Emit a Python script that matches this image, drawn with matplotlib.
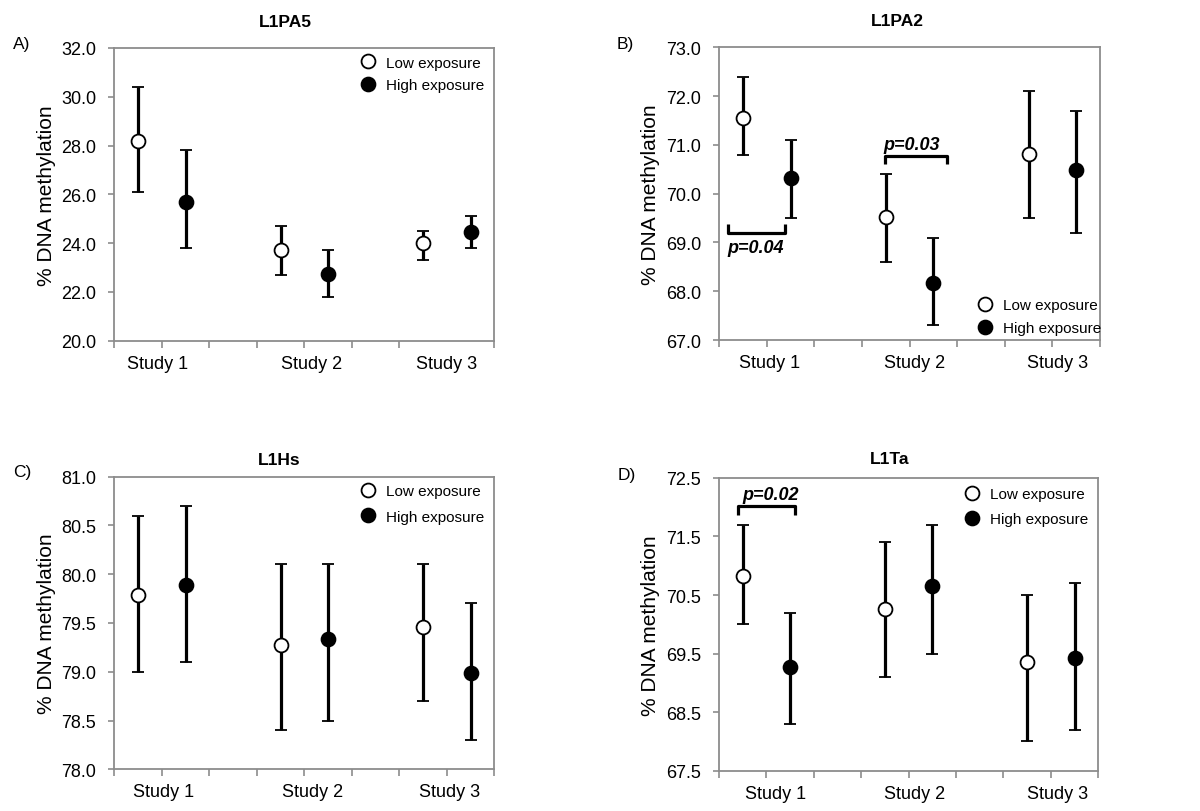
import numpy as np
import matplotlib
matplotlib.use('Agg')
import matplotlib.pyplot as plt
from matplotlib.lines import Line2D

plt.rcParams['font.family'] = ['Liberation Sans', 'DejaVu Sans']

studies = ['Study 1', 'Study 2', 'Study 3']
groups = ['Low exposure', 'High exposure']

# mean, upper bound, lower bound of each group, per panel
l1pa5_low = [28.2, 23.7, 24.0]
l1pa5_low_hi = [30.4, 24.7, 24.5]
l1pa5_low_lo = [26.1, 22.7, 23.3]
l1pa5_high = [25.7, 22.75, 24.45]
l1pa5_high_hi = [27.8, 23.7, 25.1]
l1pa5_high_lo = [23.8, 21.8, 23.8]

l1pa2_low = [71.55, 69.52, 70.82]
l1pa2_low_hi = [72.4, 70.4, 72.1]
l1pa2_low_lo = [70.8, 68.6, 69.5]
l1pa2_high = [70.32, 68.16, 70.48]
l1pa2_high_hi = [71.1, 69.1, 71.7]
l1pa2_high_lo = [69.5, 67.3, 69.2]

l1hs_low = [79.79, 79.27, 79.46]
l1hs_low_hi = [80.6, 80.1, 80.1]
l1hs_low_lo = [79.0, 78.4, 78.7]
l1hs_high = [79.89, 79.34, 78.99]
l1hs_high_hi = [80.7, 80.1, 79.7]
l1hs_high_lo = [79.1, 78.5, 78.3]

l1ta_low = [70.82, 70.26, 69.35]
l1ta_low_hi = [71.7, 71.4, 70.5]
l1ta_low_lo = [70.0, 69.1, 68.0]
l1ta_high = [69.27, 70.65, 69.42]
l1ta_high_hi = [70.2, 71.7, 70.7]
l1ta_high_lo = [68.3, 69.5, 68.2]

# significance brackets: (x start, x end, y, tip direction, label, label x, label y)
l1pa2_brackets = [(0.18, 1.39, 69.19, 1, 'p=0.04', 0.18, 68.9),
                  (3.48, 4.79, 70.78, -1, 'p=0.03', 3.45, 71.0)]
l1ta_brackets = [(0.39, 1.6, 72.02, -1, 'p=0.02', 0.5, 72.22)]

panels = [
    dict(title='L1PA5', tag='A)', ylim=(20, 32), step=2.0,
         low=(l1pa5_low, l1pa5_low_lo, l1pa5_low_hi),
         high=(l1pa5_high, l1pa5_high_lo, l1pa5_high_hi),
         brackets=[], rect=[0.0953, 0.5792, 0.3167, 0.3605],
         title_xy=(0.449, 1.09), tag_px=(22, 44),
         leg=('upper right', (0.99, 0.995), 0.55),
         label_x=[0.9, 4.15, 7.0]),
    dict(title='L1PA2', tag='B)', ylim=(67, 73), step=1.0,
         low=(l1pa2_low, l1pa2_low_lo, l1pa2_low_hi),
         high=(l1pa2_high, l1pa2_high_lo, l1pa2_high_hi),
         brackets=l1pa2_brackets, rect=[0.5994, 0.5800, 0.3172, 0.3605],
         title_xy=(0.469, 1.09), tag_px=(625, 44),
         leg=('lower right', (1.02, -0.005), 0.6),
         label_x=[1.05, 4.1, 7.1]),
    dict(title='L1Hs', tag='C)', ylim=(78, 81), step=0.5,
         low=(l1hs_low, l1hs_low_lo, l1hs_low_hi),
         high=(l1hs_high, l1hs_high_lo, l1hs_high_hi),
         brackets=[], rect=[0.0953, 0.0514, 0.3167, 0.3603],
         title_xy=(0.433, 1.058), tag_px=(22, 473),
         leg=('upper right', (0.99, 0.995), 0.75),
         label_x=[1.03, 4.17, 7.05]),
    dict(title='L1Ta', tag='D)', ylim=(67.5, 72.5), step=1.0,
         low=(l1ta_low, l1ta_low_lo, l1ta_low_hi),
         high=(l1ta_high, l1ta_high_lo, l1ta_high_hi),
         brackets=l1ta_brackets, rect=[0.5992, 0.0496, 0.3160, 0.3606],
         title_xy=(0.451, 1.068), tag_px=(627, 476),
         leg=('upper right', (0.99, 0.99), 0.75),
         label_x=[1.2, 4.13, 7.15]),
]

fig = plt.figure(figsize=(12, 8.12), dpi=100)
spine_col = '#8c8c8c'
centers = np.arange(len(studies)) * 3 + 1.0
faces = ['white', 'black']

for p in panels:
    ax = fig.add_axes(p['rect'])
    for g, key in enumerate(['low', 'high']):
        m, lo, hi = [np.array(v) for v in p[key]]
        x = centers - 0.5 + g
        ax.errorbar(x, m, yerr=[m - lo, hi - m], fmt='o', ms=10, mfc=faces[g],
                    mec='black', mew=1.3, ecolor='black', elinewidth=2.3,
                    capsize=4.3, capthick=2.3, zorder=3)

    for x0, x1, y, d, txt, tx, ty in p['brackets']:
        tip = (p['ylim'][1] - p['ylim'][0]) * 0.03 * d
        ax.plot([x0, x0, x1, x1], [y + tip, y, y, y + tip], color='black',
                lw=2.3, solid_capstyle='butt', zorder=2)
        ax.text(tx, ty, txt, fontsize=13, fontweight='bold', style='italic',
                ha='left', va='center')

    ax.set_xlim(0, 8)
    ax.set_ylim(*p['ylim'])
    ax.set_yticks(np.arange(p['ylim'][0], p['ylim'][1] + 0.01, p['step']))
    ax.yaxis.set_major_formatter(matplotlib.ticker.FormatStrFormatter('%.1f'))
    ax.set_xticks(p['label_x'])
    ax.set_xticklabels(studies)
    ax.set_xticks(np.arange(0, 9), minor=True)
    ax.tick_params(axis='x', which='major', length=0, pad=10, labelsize=13)
    ax.tick_params(axis='x', which='minor', length=5, width=1.2,
                   color=spine_col, direction='out')
    ax.tick_params(axis='y', length=4, width=1.2, color=spine_col,
                   direction='out', pad=9, labelsize=13)
    for s in ax.spines.values():
        s.set_color(spine_col)
        s.set_linewidth(1.3)
    ax.set_ylabel('% DNA methylation', fontsize=15, labelpad=4)

    handles = [Line2D([], [], ls='none', marker='o', ms=10, mfc=faces[g],
                      mec='black', mew=1.3) for g in range(2)]
    ax.legend(handles, groups, loc=p['leg'][0], bbox_to_anchor=p['leg'][1],
              frameon=False, fontsize=11, handlelength=1.0,
              handletextpad=0.7, labelspacing=p['leg'][2], borderaxespad=0)

    ax.text(p['title_xy'][0], p['title_xy'][1], p['title'], transform=ax.transAxes,
            fontsize=12.5, fontweight='bold', ha='center', va='center')
    fig.text(p['tag_px'][0] / 1200, 1 - p['tag_px'][1] / 812, p['tag'],
             fontsize=12.5, ha='center', va='center')

fig.savefig('out.png', dpi=100)
